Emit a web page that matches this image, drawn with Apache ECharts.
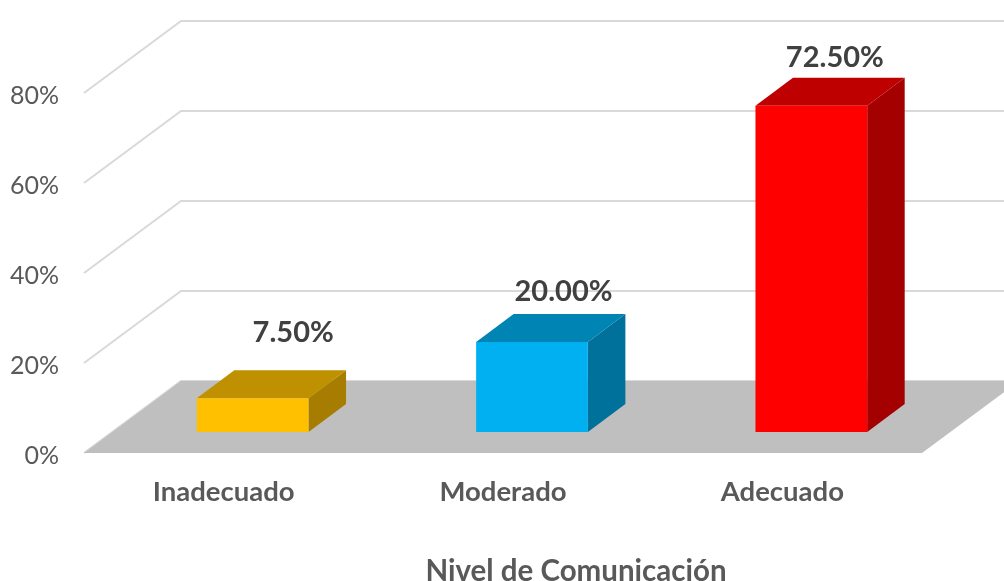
<!DOCTYPE html>
<html>
<head>
<meta charset="utf-8">
<style>html,body{margin:0;padding:0;background:#fff}#c{width:1004px;height:581px}</style>
<script src="https://cdn.jsdelivr.net/npm/echarts@6/dist/echarts.min.js"></script>
</head>
<body>
<div id="c"></div>
<script>
const categories = ['Inadecuado', 'Moderado', 'Adecuado'];
const values = [7.5, 20, 72.5];
const yTicks = [0, 20, 40, 60, 80];
const axisTitle = 'Nivel de Comunicación';
const frontColors = ['#FFC000', '#00B0F0', '#FF0000'];
const topColors = ['#BF9000', '#0084B4', '#BF0000'];
const sideColors = ['#A67D00', '#00719B', '#A50000'];
const labelShift = [[40.5, -66], [31.5, -50], [23.5, -48]];

const FONT = 'Lato, "Open Sans", sans-serif';
const wall = { dx: 97, dy: -72 };
const box = { dx: 37.5, dy: -28, shiftX: 29, shiftY: -21, widthRatio: 0.4 };

const chart = echarts.init(document.getElementById('c'), null, { renderer: 'canvas' });

const poly = (points, fill, z2) => ({
  type: 'polygon', z2: z2 || 0,
  shape: { points },
  style: { fill }
});

chart.setOption({
  animation: false,
  backgroundColor: '#fff',
  title: {
    text: axisTitle, left: 571, top: 551, textAlign: 'center',
    textStyle: { fontFamily: FONT, fontSize: 29.5, fontWeight: 'bold', color: '#595959' }
  },
  grid: { left: 84, top: 93, width: 838, height: 360, containLabel: false },
  xAxis: {
    type: 'category', data: categories,
    axisLine: { show: false }, axisTick: { show: false }, splitLine: { show: false },
    axisLabel: { margin: 25, fontFamily: FONT, fontSize: 27.5, fontWeight: 'bold', color: '#595959' }
  },
  yAxis: {
    type: 'value', min: 0, max: 80, interval: 20,
    axisLine: { show: false }, axisTick: { show: false }, splitLine: { show: false },
    axisLabel: {
      margin: 25,
      formatter: v => '{t|' + v + '%}',
      rich: { t: { fontFamily: FONT, fontSize: 25, color: '#595959', padding: [6, 0, 0, 0] } }
    }
  },
  series: [
    {
      type: 'custom', coordinateSystem: 'cartesian2d', silent: true, clip: false, z: 1,
      data: yTicks.map(v => [0, v]),
      encode: { x: 0, y: 1 },
      renderItem(params, api) {
        const g = params.coordSys;
        const y = api.coord([0, api.value(1)])[1];
        const pen = { stroke: '#D9D9D9', lineWidth: 2, fill: null };
        return {
          type: 'group', children: [
            { type: 'polyline', shape: { points: [[g.x, y], [g.x + wall.dx, y + wall.dy], [1004, y + wall.dy]] }, style: pen }
          ]
        };
      }
    },
    {
      type: 'custom', coordinateSystem: 'cartesian2d', silent: true, clip: false, z: 2,
      data: [[0, 0]],
      encode: { x: 0, y: 1 },
      renderItem(params, api) {
        const g = params.coordSys;
        const y = api.coord([0, 0])[1];
        return poly([
          [g.x, y], [g.x + g.width, y],
          [g.x + g.width + wall.dx, y + wall.dy], [g.x + wall.dx, y + wall.dy]
        ], '#BFBFBF');
      }
    },
    {
      type: 'custom', coordinateSystem: 'cartesian2d', silent: true, clip: false, z: 3,
      data: values.map((v, i) => [i, v]),
      encode: { x: 0, y: 1 },
      renderItem(params, api) {
        const i = api.value(0);
        const top = api.coord([i, api.value(1)]);
        const base = api.coord([i, 0]);
        const w = api.size([1, 0])[0] * box.widthRatio;
        const l = top[0] + box.shiftX - w / 2, r = l + w;
        const t = top[1] + box.shiftY, b = base[1] + box.shiftY;
        const s = labelShift[i];
        return {
          type: 'group', children: [
            poly([[r, t], [r + box.dx, t + box.dy], [r + box.dx, b + box.dy], [r, b]], sideColors[i]),
            poly([[l, t], [r, t], [r + box.dx, t + box.dy], [l + box.dx, t + box.dy]], topColors[i]),
            poly([[l, t], [r, t], [r, b], [l, b]], frontColors[i]),
            {
              type: 'text', z2: 5,
              style: {
                x: l + w / 2 + s[0], y: t + s[1],
                text: values[i].toFixed(2) + '%',
                align: 'center', verticalAlign: 'middle',
                font: 'bold 29px ' + FONT, fill: '#404040'
              }
            }
          ]
        };
      }
    }
  ]
});
</script>
</body>
</html>
